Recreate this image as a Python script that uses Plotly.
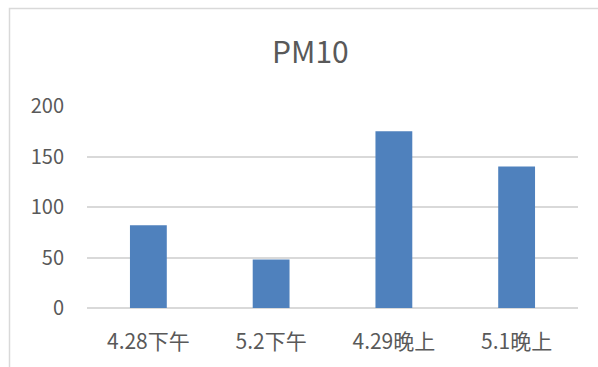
import plotly.graph_objects as go

categories = ["4.28下午", "5.2下午", "4.29晚上", "5.1晚上"]
pm10_values = [82, 48, 175, 140]
y_ticks = [0, 50, 100, 150, 200]

FONT = "Noto Sans CJK SC, Noto Sans, sans-serif"
GRAY = "#595959"

fig = go.Figure()
fig.add_trace(go.Bar(
    x=categories,
    y=pm10_values,
    marker=dict(color="#4f81bd", line=dict(width=0)),
))

fig.update_layout(
    width=598,
    height=367,
    margin=dict(l=87, r=20, t=106, b=57),
    paper_bgcolor="white",
    plot_bgcolor="white",
    bargap=0.70,
    showlegend=False,
    font=dict(family=FONT, color=GRAY, size=15),
    title=dict(
        text="PM10",
        x=0.519,
        xanchor="center",
        y=1 - 52 / 367,
        yanchor="middle",
        yref="container",
        font=dict(family=FONT, size=30, color=GRAY),
    ),
    xaxis=dict(
        showgrid=False,
        showline=False,
        zeroline=False,
        ticks="",
        ticklabelstandoff=19,
        tickfont=dict(family=FONT, size=21, color=GRAY),
    ),
    yaxis=dict(
        range=[0, 200],
        tickvals=y_ticks,
        showgrid=True,
        gridcolor="#d9d9d9",
        gridwidth=1.5,
        zeroline=True,
        zerolinecolor="#d9d9d9",
        zerolinewidth=1.5,
        showline=False,
        ticks="",
        ticklabelstandoff=22,
        tickfont=dict(family=FONT, size=20, color=GRAY),
    ),
    shapes=[dict(
        type="rect",
        xref="paper", yref="paper",
        x0=(9.5 - 87) / 491, x1=1.2,
        y0=-0.5, y1=(310 - 7.5) / 204,
        line=dict(color="#d9d9d9", width=1.5),
        fillcolor="rgba(0,0,0,0)",
        layer="below",
    )],
)

fig.write_html(
    "out.html",
    config={"displayModeBar": False},
    post_script="document.body.style.margin='0';document.body.style.overflow='hidden';",
)
